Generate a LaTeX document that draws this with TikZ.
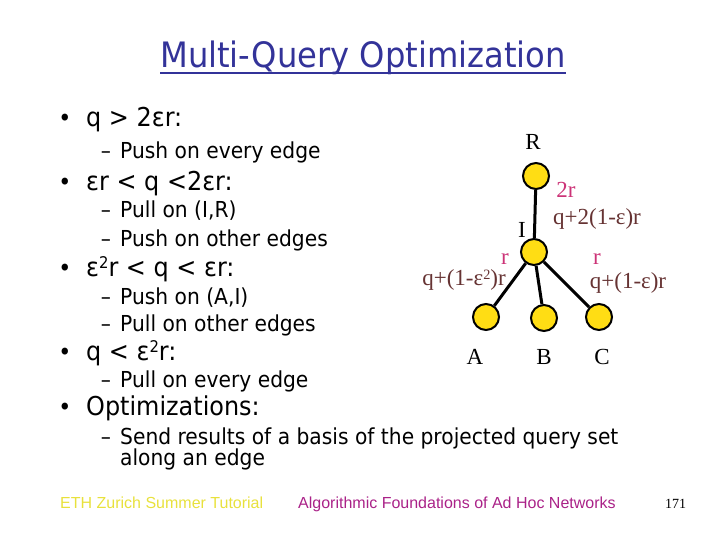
\documentclass[tikz,border=0pt]{standalone}
\usepackage{fontspec}
\newfontfamily\tah{DejaVu Sans}[FakeStretch=0.92]
\newfontfamily\tms{Liberation Serif}
\newfontfamily\ari{Liberation Sans}
\newcommand{\mysq}{\raisebox{0.28em}{\scalebox{0.62}{2}}}
\definecolor{titleblue}{RGB}{51,51,153}
\definecolor{lblmag}{RGB}{204,51,119}
\definecolor{lblbrown}{RGB}{102,51,51}
\definecolor{ethyellow}{RGB}{232,225,60}
\definecolor{footpurple}{RGB}{170,34,136}
\definecolor{nodeyellow}{RGB}{255,221,20}
\tikzset{
  mainitem/.style={anchor=base west, inner sep=0pt, font=\tah\fontsize{26}{30}\selectfont},
  subitem/.style={anchor=base west, inner sep=0pt, font=\tah\fontsize{22}{26}\selectfont},
  bulletmark/.style={anchor=base, inner sep=0pt, font=\tah\fontsize{24}{28}\selectfont},
  dashmark/.style={anchor=base, inner sep=0pt, font=\tah\fontsize{22}{26}\selectfont},
  treenode/.style={circle, draw=black, line width=2pt, fill=nodeyellow, minimum size=26pt, inner sep=0pt},
  treeedge/.style={line width=3pt, black},
  treelbl/.style={inner sep=0pt, font=\tms\fontsize{23}{26}\selectfont},
  maglbl/.style={treelbl, text=lblmag},
  brnlbl/.style={treelbl, text=lblbrown},
  foot/.style={anchor=base west, inner sep=0pt, font=\ari\fontsize{16}{19}\selectfont}
}
\begin{document}
\begin{tikzpicture}[x=1pt,y=-1pt]
\useasboundingbox (0,0) rectangle (720,540);
% title
\node[anchor=base, inner sep=0pt, text=titleblue, font=\tah\fontsize{35}{40}\selectfont] (title) at (363,68) {Multi-Query Optimization};
\draw[titleblue, line width=1.5pt] ([yshift=-5pt]title.base west) -- ([yshift=-5pt]title.base east);
% bullets
\node[bulletmark] (b1) at (65,127) {•};
\node[mainitem] (t1) at (86,127) {q > 2εr:};
\node[dashmark] (d1) at (106,159) {–};
\node[subitem] (s1) at (120,159) {Push on every edge};
\node[bulletmark] (b2) at (65,191) {•};
\node[mainitem] (t2) at (86,191) {εr < q <2εr:};
\node[dashmark] (d2) at (106,218) {–};
\node[subitem] (s2) at (120,218) {Pull on (I,R)};
\node[dashmark] (d3) at (106,246) {–};
\node[subitem] (s3) at (120,246) {Push on other edges};
\node[bulletmark] (b3) at (65,276) {•};
\node[mainitem] (t3) at (86,276) {ε\mysq r < q < εr:};
\node[dashmark] (d4) at (106,304) {–};
\node[subitem] (s4) at (120,304) {Push on (A,I)};
\node[dashmark] (d5) at (106,331) {–};
\node[subitem] (s5) at (120,331) {Pull on other edges};
\node[bulletmark] (b4) at (65,360) {•};
\node[mainitem] (t4) at (86,360) {q < ε\mysq r:};
\node[dashmark] (d6) at (106,387) {–};
\node[subitem] (s6) at (120,387) {Pull on every edge};
\node[bulletmark] (b5) at (65,415) {•};
\node[mainitem] (t5) at (86,415) {Optimizations:};
\node[dashmark] (d7) at (106,444) {–};
\node[subitem] (s7) at (120,444) {Send results of a basis of the projected query set};
\node[subitem] (s8) at (120,465) {along an edge};
% tree
\node[treenode] (R) at (536,176) {};
\node[treenode] (I) at (534,252) {};
\node[treenode] (A) at (486,317) {};
\node[treenode] (B) at (544,318) {};
\node[treenode] (C) at (599,317) {};
\draw[treeedge] (R) -- (I);
\draw[treeedge] (I) -- (A);
\draw[treeedge] (I) -- (B);
\draw[treeedge] (I) -- (C);
\node[treelbl] (lR) at (533,142) {R};
\node[maglbl] (l2r) at (566,190) {2r};
\node[brnlbl] (lIR) at (597,219) {q+2(1-ε)r};
\node[treelbl] (lI) at (522,230) {I};
\node[maglbl] (lrA) at (505,259) {r};
\node[brnlbl] (lIA) at (464,280) {q+(1-ε\mysq)r};
\node[maglbl] (lrC) at (597,259) {r};
\node[brnlbl] (lIC) at (628,283) {q+(1-ε)r};
\node[treelbl] (lA) at (475,357) {A};
\node[treelbl] (lB) at (544,357) {B};
\node[treelbl] (lC) at (602,357) {C};
% footer
\node[foot, text=ethyellow] (f1) at (60,508) {ETH Zurich Summer Tutorial};
\node[foot, text=footpurple] (f2) at (298,508) {Algorithmic Foundations of Ad Hoc Networks};
\node[anchor=base west, inner sep=0pt, font=\tms\fontsize{14}{16}\selectfont] (f3) at (665,508) {171};
\end{tikzpicture}
\end{document}
